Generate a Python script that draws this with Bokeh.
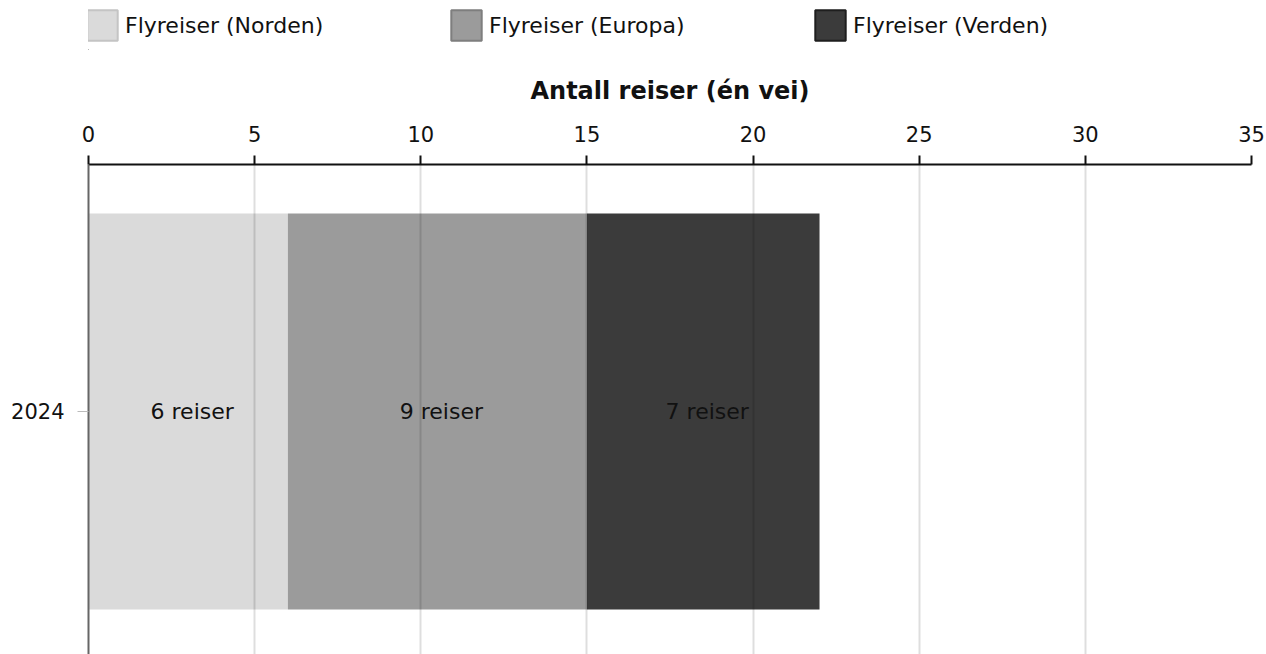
from bokeh.plotting import figure
from bokeh.layouts import column
from bokeh.models import Range1d, FixedTicker, Legend, LegendItem, ColumnDataSource
from bokeh.core.properties import value
from bokeh.embed import file_html
from bokeh.resources import INLINE

years = ["2024"]
series = ["Flyreiser (Norden)", "Flyreiser (Europa)", "Flyreiser (Verden)"]
values = [6, 9, 7]
colors = ["#dadada", "#9b9b9b", "#3b3b3b"]
border_colors = ["#c4c4c4", "#7e7e7e", "#1e1e1e"]
x_ticks = [0, 5, 10, 15, 20, 25, 30, 35]
x_title = "Antall reiser (én vei)"
FONT = "DejaVu Sans"

LEG_H = 50

# ---- legend strip ----
lf = figure(width=1266, height=LEG_H, output_backend="svg", toolbar_location=None,
            x_axis_type=None, y_axis_type=None,
            x_range=Range1d(0, 1), y_range=Range1d(0, 1),
            min_border_left=88, min_border_right=15, min_border_top=0, min_border_bottom=0)
lf.outline_line_color = None
lf.xgrid.grid_line_color = None
lf.ygrid.grid_line_color = None

items = []
for name, c, bc in zip(series, colors, border_colors):
    dummy = lf.hbar(y=[-50], left=[-50], right=[-49], height=1.0, fill_color=c,
                    line_color=bc, line_width=2)
    items.append(LegendItem(label=name, renderers=[dummy]))

legend = Legend(items=items, orientation="horizontal", location=(-5, 6),
                glyph_width=38, glyph_height=38, label_standoff=4, label_width=322,
                spacing=0, padding=0, margin=0, border_line_color=None,
                background_fill_alpha=0, label_text_font=FONT,
                label_text_font_size="22px", label_text_color="#111111")
lf.add_layout(legend, "center")

# ---- main chart ----
p = figure(width=1266, height=654 - LEG_H, output_backend="svg", toolbar_location=None,
           x_axis_location="above",
           x_range=Range1d(0, 35), y_range=Range1d(-0.6136, 0.6237),
           min_border_left=88, min_border_right=15, min_border_top=164 - LEG_H,
           min_border_bottom=0)
p.outline_line_color = None

left = 0
for name, v, c in zip(series, values, colors):
    src = ColumnDataSource(dict(y=[0], left=[left], right=[left + v],
                                mid=[left + v / 2], label=[f"{v} reiser"]))
    p.hbar(y="y", left="left", right="right", height=1.0, source=src,
           fill_color=c, line_color=None)
    p.text(x="mid", y="y", text="label", source=src, text_align="center",
           text_baseline="middle", text_font=value(FONT), text_font_size="22px",
           text_color="#111111", x_offset=4)
    left += v

xa = p.xaxis[0]
xa.ticker = FixedTicker(ticks=x_ticks)
xa.axis_label = x_title
xa.axis_label_text_font = FONT
xa.axis_label_text_font_style = "bold"
xa.axis_label_text_font_size = "24px"
xa.axis_label_text_color = "#111111"
xa.axis_label_standoff = 18
xa.major_label_text_font = FONT
xa.major_label_text_font_size = "21px"
xa.major_label_text_color = "#111111"
xa.major_label_standoff = 14
xa.major_tick_out = 9
xa.major_tick_in = 0
xa.minor_tick_line_color = None
xa.axis_line_width = 2
xa.major_tick_line_width = 2
xa.axis_line_color = "#111111"
xa.major_tick_line_color = "#111111"

ya = p.yaxis[0]
ya.ticker = FixedTicker(ticks=[0])
ya.major_label_overrides = {0: years[0]}
ya.major_label_text_font = FONT
ya.major_label_text_font_size = "21px"
ya.major_label_text_color = "#111111"
ya.major_label_standoff = 13
ya.major_tick_out = 11
ya.major_tick_in = 0
ya.minor_tick_line_color = None
ya.axis_line_width = 2
ya.axis_line_color = "#666666"
ya.major_tick_line_color = "#bbbbbb"
ya.major_tick_line_width = 1

p.ygrid.grid_line_color = None
p.xgrid.grid_line_color = "black"
p.xgrid.grid_line_alpha = 0.13
p.xgrid.grid_line_width = 2
p.xgrid.level = "overlay"

layout = column(lf, p, spacing=0)
open("out.html", "w").write(file_html(layout, INLINE))
